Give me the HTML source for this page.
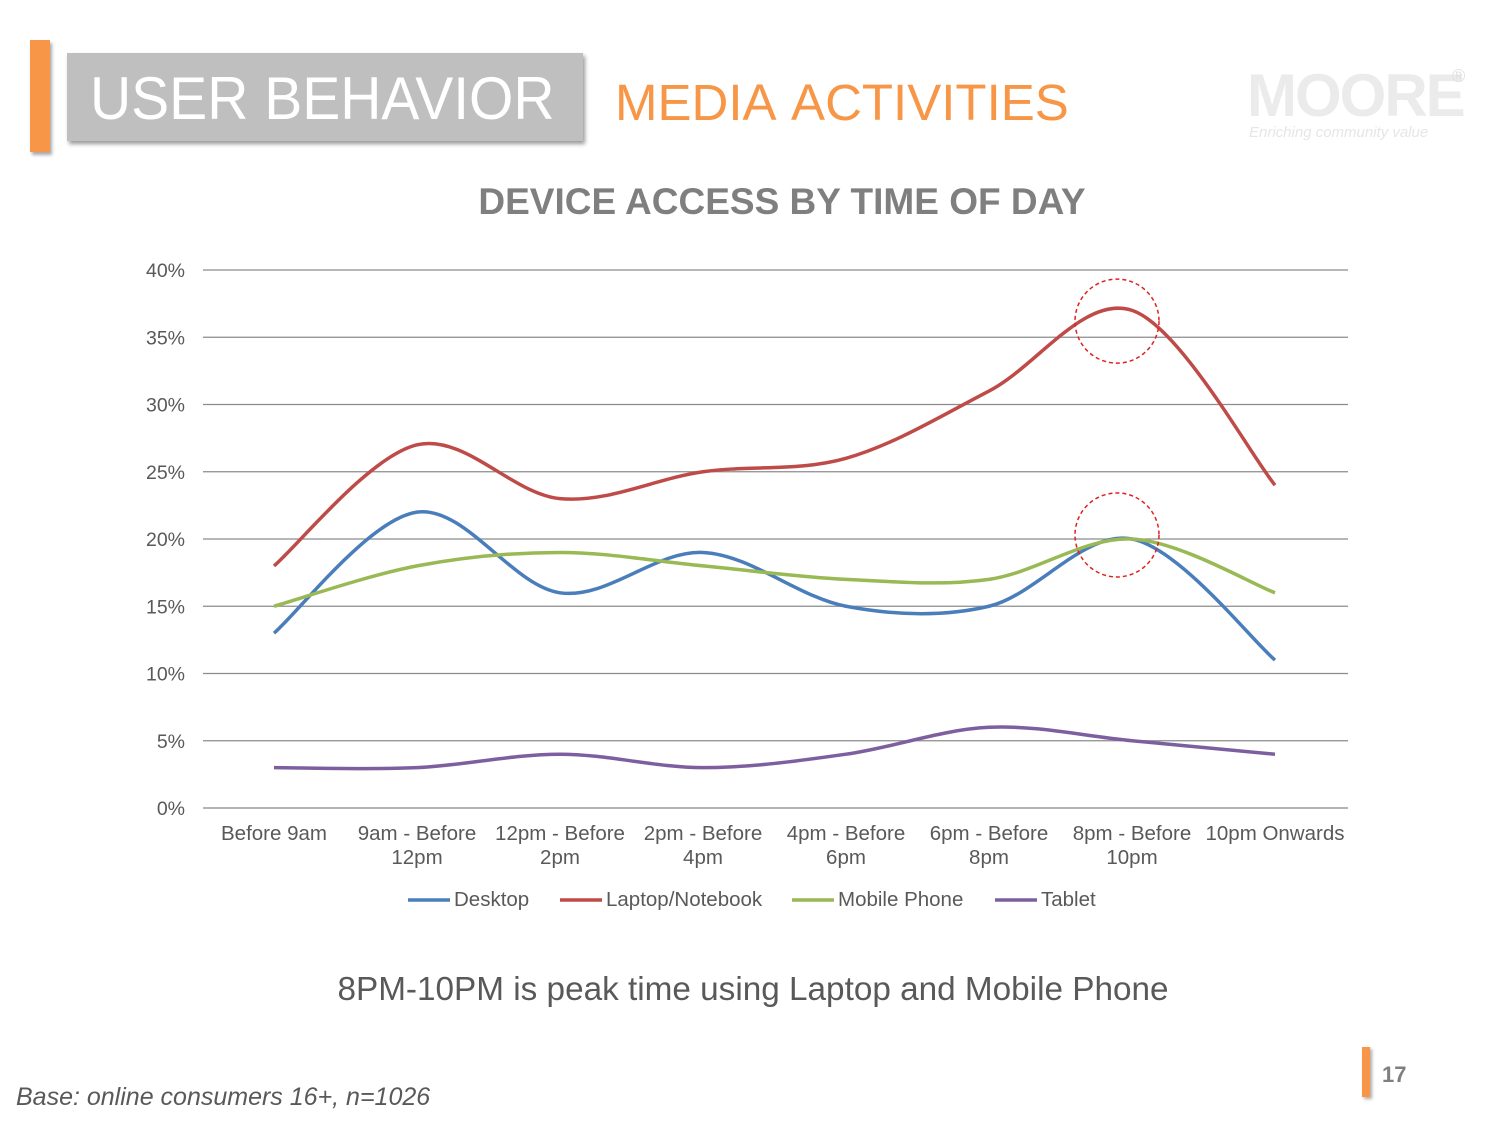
<!DOCTYPE html>
<html><head><meta charset="utf-8">
<style>
body{margin:0;width:1500px;height:1125px;background:#fff;font-family:"Liberation Sans",Arial,sans-serif;position:relative;overflow:hidden}
.abs{position:absolute}
</style></head><body>
<div class="abs" style="left:30px;top:40px;width:20px;height:112px;background:#f79646;box-shadow:2px 3px 3px #aaa"></div>
<div class="abs" style="left:67px;top:53px;width:516px;height:88px;background:#bfbfbf;box-shadow:2px 3px 4px #999"></div>
<div class="abs" style="left:90px;top:64px;font-size:60px;color:#fff;line-height:70px;transform:scaleX(0.95);transform-origin:left">USER BEHAVIOR</div>
<div class="abs" style="left:615px;top:72px;font-size:51px;color:#f79646;line-height:62px;word-spacing:6px">MEDIA ACTIVITIES</div>
<div class="abs" style="left:1247px;top:66px;font-size:60px;font-weight:bold;color:#ebebeb;letter-spacing:-2px;line-height:60px">MOORE</div>
<div class="abs" style="left:1452px;top:66px;font-size:18px;color:#e0e0e0">®</div>
<div class="abs" style="left:1249px;top:124px;font-size:15px;font-style:italic;color:#e6e6e6">Enriching community value</div>
<div class="abs" style="left:0;width:1564px;text-align:center;top:181px;font-size:37px;font-weight:bold;color:#7f7f7f">DEVICE ACCESS BY TIME OF DAY</div>
<svg class="abs" style="left:0;top:0" width="1500" height="1125" id="chart"></svg>
<div class="abs" style="left:0;width:1506px;text-align:center;top:971px;font-size:33.3px;color:#595959">8PM-10PM is peak time using Laptop and Mobile Phone</div>
<div class="abs" style="left:1362px;top:1047px;width:8px;height:50px;background:#f79646;box-shadow:2px 2px 3px #aaa"></div>
<div class="abs" style="left:1382px;top:1062px;font-size:22px;font-weight:bold;color:#7f7f7f">17</div>
<div class="abs" style="left:16px;top:1083px;font-size:25px;font-style:italic;color:#595959">Base: online consumers 16+, n=1026</div>
<script>
const categories=[["Before 9am"],["9am - Before","12pm"],["12pm - Before","2pm"],["2pm - Before","4pm"],["4pm - Before","6pm"],["6pm - Before","8pm"],["8pm - Before","10pm"],["10pm Onwards"]];
const desktop=[13,22,16,19,15,15,20,11];
const laptop=[18,27,23,25,26,31,37,24];
const mobile=[15,18,19,18,17,17,20,16];
const tablet=[3,3,4,3,4,6,5,4];
const yTicks=[0,5,10,15,20,25,30,35,40];
const seriesNames=["Desktop","Laptop/Notebook","Mobile Phone","Tablet"];
const seriesColors=["#4a7ebb","#be4b48","#98b954","#7d5fa0"];
const highlightIdx=6, highlightVals=[36.2,20.3];

const svg=document.getElementById('chart');const NS='http://www.w3.org/2000/svg';
function mk(t,a,p){const e=document.createElementNS(NS,t);for(const k in a)e.setAttribute(k,a[k]);(p||svg).appendChild(e);return e;}
const X=i=>274+i*143, Y=v=>808-v*13.45;
yTicks.forEach(v=>{
 const l=mk('line',{x1:203,x2:1348,y1:Y(v),y2:Y(v),stroke:v===0?'#868686':'#8c8c8c','stroke-width':1.3});
 
 
 const t=mk('text',{x:185,y:Y(v)+7,'text-anchor':'end','font-size':19.5,fill:'#595959'});t.textContent=v+'%';
 
 
});
categories.forEach((c,i)=>{c.forEach((s,j)=>{const t=mk('text',{x:X(i),y:840+j*24,'text-anchor':'middle','font-size':20.5,fill:'#595959'});t.textContent=s;
 
 });});
function path(vals){const p=vals.map((v,i)=>[X(i),Y(v)]);let d='M'+p[0][0]+','+p[0][1];
 for(let i=0;i<p.length-1;i++){const p0=p[i-1]||p[i],p1=p[i],p2=p[i+1],p3=p[i+2]||p2;
 const c1=[p1[0]+(p2[0]-p0[0])/6,p1[1]+(p2[1]-p0[1])/6],c2=[p2[0]-(p3[0]-p1[0])/6,p2[1]-(p3[1]-p1[1])/6];
 d+=` C${c1[0]},${c1[1]} ${c2[0]},${c2[1]} ${p2[0]},${p2[1]}`;}return d;}
[desktop,laptop,mobile,tablet].forEach((s,k)=>{const e=mk('path',{d:path(s),fill:'none',stroke:seriesColors[k],'stroke-width':3.5});
 
 });
highlightVals.forEach(v=>{const c=mk('circle',{cx:X(highlightIdx)-15,cy:Y(v),r:42,fill:'none',stroke:'#e02020','stroke-width':1.5,'stroke-dasharray':'4,3'});
 
 });
const lx=[408,560,792,995];
seriesNames.forEach((n,k)=>{const g=mk('g',{});
 
 
 mk('line',{x1:lx[k],x2:lx[k]+42,y1:900,y2:900,stroke:seriesColors[k],'stroke-width':3.5},g);
 const t=mk('text',{x:lx[k]+46,y:906,'font-size':20.5,fill:'#595959'},g);t.textContent=n;});
</script>
</body></html>
